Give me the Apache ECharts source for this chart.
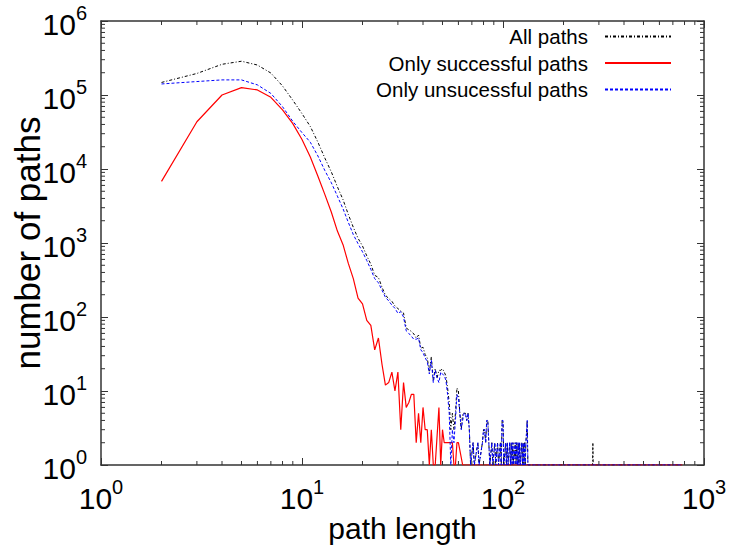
<!DOCTYPE html>
<html>
<head>
<meta charset="utf-8">
<title>Path length distribution</title>
<script src="https://cdn.jsdelivr.net/npm/echarts@6/dist/echarts.min.js"></script>
<style>
  html, body { margin: 0; padding: 0; background: #ffffff; }
  #chart { width: 730px; height: 553px; }
</style>
</head>
<body>
<div id="chart"></div>
<script>
// Number of paths of each length, as [path length, number of paths].
const allPaths = [
  [2,147800],[3,195500],[4,260000],[5,286000],[6,254000],[7,198000],[8,132500],[9,85000],
  [10,56000],[11,37500],[12,23000],[13,14000],[14,9100],[15,5750],[16,3850],[17,2430],
  [18,1630],[19,1160],[20,910],[21,670],[22,517],[23,366],[24,342],[25,253],[26,197],
  [27,178],[28,163],[29,141],[30,130],[31,121],[32,113],[33,71],[34,67],[35,64],[36,59],
  [37,52],[38,57],[39,38],[40,39],[41,31],[42,28],[43,18],[44,29],[45,14],[46,20],[47,15],
  [48,19],[49,19],[50,20],[51,18],[52,16],[53,11],[54,7],[55,3],[56,5],[57,3],[58,5],
  [59,11],[60,10],[61,5],[62,3],[63,5],[64,5],[65,5],[66,4],[67,5],[68,3],[69,1],[71,2],
  [72,1],[75,2],[76,1],[79,2],[80,3],[81,3],[82,2],[83,4],[84,4],[85,2],[86,1],[88,2],
  [89,1],[91,2],[92,1],[94,2],[95,1],[97,2],[98,1],[99,4],[100,4],[101,1],[103,2],[104,1],
  [105,2],[106,1],[108,2],[109,1],[110,2],[111,1],[112,2],[113,1],[115,2],[116,1],[117,2],
  [118,1],[119,2],[120,1],[121,2],[122,1],[124,2],[125,1],[126,2],[127,1],[128,2],[129,1],
  [130,2],[131,2],[132,4],[133,1],[136,1],[279,1],[280,2],[281,1],[780,1]
];
const successfulPaths = [
  [2,6800],[3,43500],[4,100000],[5,126000],[6,117000],[7,93000],[8,63000],[9,41000],
  [10,25000],[11,14500],[12,8000],[13,4500],[14,2600],[15,1450],[16,950],[17,530],
  [18,330],[19,180],[20,150],[21,90],[22,77],[23,36],[24,52],[25,23],[26,12],[27,13],
  [28,18],[29,10],[30,18],[31,3],[32,13],[33,6],[34,7],[35,9],[36,9],[37,2],[38,5],
  [39,2],[40,6],[41,3],[42,3],[43,1],[44,3],[45,1],[46,1],[48,6],[49,1],[50,3],[51,2],
  [52,2],[53,2],[54,2],[55,2],[56,2],[57,1],[58,1],[59,2],[60,2],[63,1],[280,1],[780,1]
];
const unsuccessfulPaths = [
  [2,141000],[3,152000],[4,160000],[5,160000],[6,137000],[7,105000],[8,69500],[9,44000],
  [10,31000],[11,23000],[12,15000],[13,9500],[14,6500],[15,4300],[16,2900],[17,1900],
  [18,1300],[19,980],[20,760],[21,580],[22,440],[23,330],[24,290],[25,230],[26,185],
  [27,165],[28,145],[29,131],[30,112],[31,118],[32,100],[33,65],[34,60],[35,55],[36,50],
  [37,50],[38,52],[39,36],[40,33],[41,28],[42,25],[43,17],[44,26],[45,13],[46,19],[47,15],
  [48,13],[49,18],[50,17],[51,16],[52,14],[53,9],[54,5],[55,1],[56,3],[57,2],[58,4],
  [59,9],[60,8],[61,5],[62,3],[63,4],[64,5],[65,5],[66,4],[67,5],[68,3],[69,1],[71,2],
  [72,1],[75,2],[76,1],[79,2],[80,3],[81,3],[82,2],[83,4],[84,4],[85,2],[86,1],[88,2],
  [89,1],[91,2],[92,1],[94,2],[95,1],[97,2],[98,1],[99,4],[100,4],[101,1],[103,2],[104,1],
  [105,2],[106,1],[108,2],[109,1],[110,2],[111,1],[112,2],[113,1],[115,2],[116,1],[117,2],
  [118,1],[119,2],[120,1],[121,2],[122,1],[124,2],[125,1],[126,2],[127,1],[128,2],[129,1],
  [130,2],[131,2],[132,4],[133,1],[136,1],[280,1],[780,1]
];

const seriesNames = ['All paths', 'Only successful paths', 'Only unsucessful paths'];
const xDecades = [1, 10, 100, 1000];
const yDecades = [1, 10, 100, 1000, 10000, 100000, 1000000];
const minorSteps = [2, 3, 4, 5, 6, 7, 8, 9];

const FONT = '"Liberation Sans", Arial, Helvetica, sans-serif';
const FRAME = '#333333';
const MAJOR_LEN = 7;
const MINOR_LEN = 4;
const X_MIN = xDecades[0], X_MAX = xDecades[xDecades.length - 1];
const Y_MIN = yDecades[0], Y_MAX = yDecades[yDecades.length - 1];

// minor tick positions 2..9 within each decade
function minorValues(decades) {
  const out = [];
  for (let i = 0; i < decades.length - 1; i++) {
    minorSteps.forEach(m => out.push(m * decades[i]));
  }
  return out;
}
const xMinor = minorValues(xDecades).map(v => [v, Y_MIN]);
const yMinor = minorValues(yDecades).map(v => [X_MIN, v]);

const powerLabel = v => '{b|10}{s|' + Math.round(Math.log10(v)) + '}';
const tickRich = {
  b: { fontSize: 30, fontFamily: FONT, color: '#000', lineHeight: 36, verticalAlign: 'bottom' },
  s: { fontSize: 20, fontFamily: FONT, color: '#000', lineHeight: 20, verticalAlign: 'top' }
};

function logAxis(pos, min, max, withLabels) {
  return {
    type: 'log', logBase: 10, min: min, max: max, position: pos,
    axisLine: { show: true, onZero: false, lineStyle: { color: FRAME, width: 1.5 } },
    axisTick: { show: true, inside: true, length: MAJOR_LEN, lineStyle: { color: FRAME, width: 1 } },
    axisLabel: withLabels
      ? { show: true, formatter: powerLabel, rich: tickRich, color: '#000' }
      : { show: false },
    splitLine: { show: false },
    minorTick: { show: false },
    minorSplitLine: { show: false }
  };
}

// short inward minor ticks on all four sides of the frame
function xMinorTick(params, api) {
  const v = api.value(0);
  const b = api.coord([v, Y_MIN]);
  const t = api.coord([v, Y_MAX]);
  const st = { stroke: FRAME, lineWidth: 1 };
  return { type: 'group', children: [
    { type: 'line', shape: { x1: b[0], y1: b[1], x2: b[0], y2: b[1] - MINOR_LEN }, style: st },
    { type: 'line', shape: { x1: t[0], y1: t[1], x2: t[0], y2: t[1] + MINOR_LEN }, style: st }
  ]};
}
function yMinorTick(params, api) {
  const v = api.value(1);
  const l = api.coord([X_MIN, v]);
  const r = api.coord([X_MAX, v]);
  const st = { stroke: FRAME, lineWidth: 1 };
  return { type: 'group', children: [
    { type: 'line', shape: { x1: l[0], y1: l[1], x2: l[0] + MINOR_LEN, y2: l[1] }, style: st },
    { type: 'line', shape: { x1: r[0], y1: r[1], x2: r[0] - MINOR_LEN, y2: r[1] }, style: st }
  ]};
}

const xBottom = Object.assign(logAxis('bottom', X_MIN, X_MAX, true), {
  name: 'path length', nameLocation: 'middle', nameGap: 48, nameMoveOverlap: false,
  nameTextStyle: { fontSize: 30, fontFamily: FONT, color: '#000' }
});
xBottom.axisLabel.margin = 12;
const yLeft = Object.assign(logAxis('left', Y_MIN, Y_MAX, true), {
  name: 'number of paths', nameLocation: 'middle', nameGap: 56, nameMoveOverlap: false,
  nameTextStyle: { fontSize: 35, fontFamily: FONT, color: '#000' }
});
yLeft.axisLabel.margin = 14;

const chart = echarts.init(document.getElementById('chart'), null, { renderer: 'svg' });
chart.setOption({
  animation: false,
  backgroundColor: '#ffffff',
  grid: { left: 101, right: 26, top: 21, bottom: 88, outerBoundsMode: 'none', containLabel: false },
  xAxis: [xBottom, logAxis('top', X_MIN, X_MAX, false)],
  yAxis: [yLeft, logAxis('right', Y_MIN, Y_MAX, false)],
  legend: {
    data: seriesNames, orient: 'vertical', align: 'right', right: 58, top: 26, padding: 0,
    itemWidth: 66, itemHeight: 14, itemGap: 5.5, selectedMode: false,
    itemStyle: { opacity: 0 },
    textStyle: { fontSize: 20.5, fontFamily: FONT, color: '#000', lineHeight: 20, padding: [0, 12, 0, 0] }
  },
  series: [
    { name: seriesNames[0], type: 'line', data: allPaths, xAxisIndex: 0, yAxisIndex: 0,
      symbol: 'none', silent: true, itemStyle: { color: '#000' },
      lineStyle: { color: '#000', width: 1, type: [3, 2, 1, 2] } },
    { name: seriesNames[1], type: 'line', data: successfulPaths, xAxisIndex: 0, yAxisIndex: 0,
      symbol: 'none', silent: true, itemStyle: { color: '#ff0000' },
      lineStyle: { color: '#ff0000', width: 1.2, type: 'solid' } },
    { name: seriesNames[2], type: 'line', data: unsuccessfulPaths, xAxisIndex: 0, yAxisIndex: 0,
      symbol: 'none', silent: true, itemStyle: { color: '#0000ff' },
      lineStyle: { color: '#0000ff', width: 1, type: [3, 2] } },
    { name: 'x minor ticks', type: 'custom', data: xMinor, xAxisIndex: 0, yAxisIndex: 0,
      renderItem: xMinorTick, silent: true, clip: false, z: 5 },
    { name: 'y minor ticks', type: 'custom', data: yMinor, xAxisIndex: 0, yAxisIndex: 0,
      renderItem: yMinorTick, silent: true, clip: false, z: 5 }
  ]
});
</script>
</body>
</html>
